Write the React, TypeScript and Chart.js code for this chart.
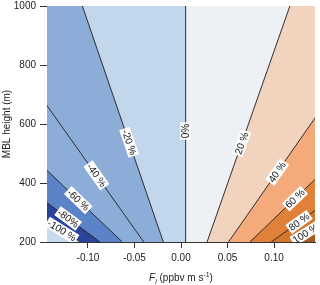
import React, { useEffect, useRef } from "react";
import { Chart, registerables } from "chart.js";

Chart.register(...registerables);

// ---- data ----
const levels = [-100, -80, -60, -40, -20, 0, 20, 40, 60, 80, 100];
const levelLabels = ["-100 %", "-80%", "-60 %", "-40 %", "-20 %", "0%", "20 %", "40 %", "60 %", "80 %", "100 %"];
// flux (ppbv m s-1) where each contour line sits at MBL height 200 m and 1000 m
const fluxAtH200 = [-0.108, -0.087, -0.063, -0.040, -0.019, 0.005, 0.028, 0.051, 0.074, 0.097, 0.119];
const fluxAtH1000 = [-0.52, -0.43, -0.33, -0.22, -0.106, 0.005, 0.117, 0.228, 0.338, 0.449, 0.53];
// MBL height (m) at which each contour label sits
const labelHeights = [239, 280, 342, 426, 538, 576, 535, 437, 347, 268, 229];
// fill colours of the 12 bands, from left (< -100 %) to right (> 100 %)
const bandColors = [
  "#c9dcef", "#29449a", "#5a84c7", "#8dadd9", "#8dadd9", "#c3d7ec",
  "#edf1f5", "#f2d3bd", "#f5aa7c", "#e08139", "#d7752b", "#a95a24",
];
const xTicks = [-0.1, -0.05, 0, 0.05, 0.1];
const yTicks = [200, 400, 600, 800, 1000];
const X_MIN = -0.144;
const X_MAX = 0.144;
const H_MIN = 200;
const H_MAX = 1000;
const EDGE_LEFT = -1;
const EDGE_RIGHT = 1;

const FONT = '"Liberation Sans", Arial, Helvetica, sans-serif';

export default function App() {
  const ref = useRef<HTMLCanvasElement>(null);

  useEffect(() => {
    document.body.style.margin = "0";
    const canvas = ref.current;
    if (!canvas) return;

    const datasets: any[] = [];
    // contour lines first (drawn on top)
    for (let i = 0; i < levels.length; i++) {
      datasets.push({
        data: [
          { x: fluxAtH200[i], y: H_MIN },
          { x: fluxAtH1000[i], y: H_MAX },
        ],
        showLine: true,
        fill: false,
        borderColor: "#1a1a1a",
        borderWidth: 0.9,
        pointRadius: 0,
      });
    }
    // filled bands
    for (let k = 0; k < bandColors.length; k++) {
      const l200 = k === 0 ? EDGE_LEFT : fluxAtH200[k - 1];
      const l1000 = k === 0 ? EDGE_LEFT : fluxAtH1000[k - 1];
      const r200 = k === bandColors.length - 1 ? EDGE_RIGHT : fluxAtH200[k];
      const r1000 = k === bandColors.length - 1 ? EDGE_RIGHT : fluxAtH1000[k];
      datasets.push({
        data: [
          { x: l1000, y: H_MAX },
          { x: r1000, y: H_MAX },
          { x: r200, y: H_MIN },
          { x: l200, y: H_MIN },
        ],
        showLine: true,
        fill: "shape",
        backgroundColor: bandColors[k],
        borderWidth: 0,
        borderColor: "rgba(0,0,0,0)",
        pointRadius: 0,
      });
    }

    const labelPlugin = {
      id: "contourLabels",
      afterDatasetsDraw(chart: any) {
        const { ctx, chartArea, scales } = chart;
        const xs = scales.x;
        const ys = scales.y;
        ctx.save();
        ctx.beginPath();
        ctx.rect(chartArea.left, chartArea.top, chartArea.right - chartArea.left, chartArea.bottom - chartArea.top);
        ctx.clip();
        ctx.font = `10px ${FONT}`;
        for (let i = 0; i < levels.length; i++) {
          const h = labelHeights[i];
          const f = fluxAtH200[i] + ((fluxAtH1000[i] - fluxAtH200[i]) * (h - H_MIN)) / (H_MAX - H_MIN);
          const px = xs.getPixelForValue(f);
          const py = ys.getPixelForValue(h);
          const x0 = xs.getPixelForValue(fluxAtH200[i]);
          const y0 = ys.getPixelForValue(H_MIN);
          const x1 = xs.getPixelForValue(fluxAtH1000[i]);
          const y1 = ys.getPixelForValue(H_MAX);
          let ang = Math.atan2(y1 - y0, x1 - x0);
          if (ang > Math.PI / 2 + 1e-6) ang -= Math.PI;
          if (ang < -Math.PI / 2 - 1e-6) ang += Math.PI;
          const text = levelLabels[i];
          const w = ctx.measureText(text).width;
          ctx.save();
          ctx.translate(px, py);
          ctx.rotate(ang);
          ctx.fillStyle = "#ffffff";
          ctx.fillRect(-w / 2 - 1.5, -5.5, w + 3, 11);
          ctx.fillStyle = "#111111";
          ctx.textAlign = "center";
          ctx.textBaseline = "middle";
          ctx.fillText(text, 0, 0.5);
          ctx.restore();
        }
        ctx.restore();
      },
    };

    const titlePlugin = {
      id: "axisTitles",
      afterDraw(chart: any) {
        const { ctx, chartArea } = chart;
        ctx.save();
        ctx.fillStyle = "#222222";
        // y title
        ctx.font = `10px ${FONT}`;
        ctx.textAlign = "center";
        ctx.textBaseline = "middle";
        ctx.translate(7, (chartArea.top + chartArea.bottom) / 2);
        ctx.rotate(-Math.PI / 2);
        ctx.fillText("MBL height (m)", 0, 0);
        ctx.restore();

        // x title with italic F, subscript i and superscript -1
        ctx.save();
        ctx.fillStyle = "#222222";
        ctx.textAlign = "left";
        ctx.textBaseline = "alphabetic";
        const parts = [
          { t: "F", font: `italic 10px ${FONT}`, dy: 0 },
          { t: "i", font: `italic 7px ${FONT}`, dy: 2.5 },
          { t: " (ppbv m s", font: `10px ${FONT}`, dy: 0 },
          { t: "-1", font: `7px ${FONT}`, dy: -4.5 },
          { t: ")", font: `10px ${FONT}`, dy: 0 },
        ];
        let total = 0;
        const widths: number[] = [];
        for (const p of parts) {
          ctx.font = p.font;
          const w = ctx.measureText(p.t).width;
          widths.push(w);
          total += w;
        }
        let x = (chartArea.left + chartArea.right) / 2 - total / 2;
        const base = 281;
        parts.forEach((p, idx) => {
          ctx.font = p.font;
          ctx.fillText(p.t, x, base + p.dy);
          x += widths[idx];
        });
        ctx.restore();
      },
    };

    const chart = new Chart(canvas, {
      type: "scatter",
      data: { datasets },
      options: {
        animation: false,
        responsive: false,
        maintainAspectRatio: false,
        events: [],
        layout: { padding: { top: 6, right: 5, left: 0, bottom: 0 } },
        plugins: {
          legend: { display: false },
          tooltip: { enabled: false },
        },
        scales: {
          x: {
            type: "linear",
            min: X_MIN,
            max: X_MAX,
            afterBuildTicks: (s: any) => {
              s.ticks = xTicks.map((v) => ({ value: v }));
            },
            afterFit: (s: any) => {
              s.height = 43;
              s.paddingLeft = 0;
              s.paddingRight = 0;
            },
            grid: { drawOnChartArea: false, drawTicks: true, tickLength: 6, color: "#333333", lineWidth: 1 },
            border: { display: true, color: "#333333", width: 1 },
            ticks: {
              font: { family: FONT, size: 10 },
              color: "#222222",
              padding: 4,
              maxRotation: 0,
              callback: (v: any) => Number(v).toFixed(2),
            },
          },
          y: {
            type: "linear",
            min: H_MIN,
            max: H_MAX,
            afterBuildTicks: (s: any) => {
              s.ticks = yTicks.map((v) => ({ value: v }));
            },
            afterFit: (s: any) => {
              s.width = 47;
              s.paddingTop = 0;
              s.paddingBottom = 0;
            },
            grid: { drawOnChartArea: false, drawTicks: true, tickLength: 7, color: "#333333", lineWidth: 1 },
            border: { display: true, color: "#333333", width: 1 },
            ticks: {
              font: { family: FONT, size: 10 },
              color: "#222222",
              padding: 4,
              callback: (v: any) => String(v),
            },
          },
        },
      } as any,
      plugins: [labelPlugin, titlePlugin],
    });

    return () => {
      chart.destroy();
    };
  }, []);

  return (
    <div style={{ width: 320, height: 285, background: "#ffffff" }}>
      <canvas ref={ref} width={320} height={285} style={{ width: 320, height: 285, display: "block" }} />
    </div>
  );
}
